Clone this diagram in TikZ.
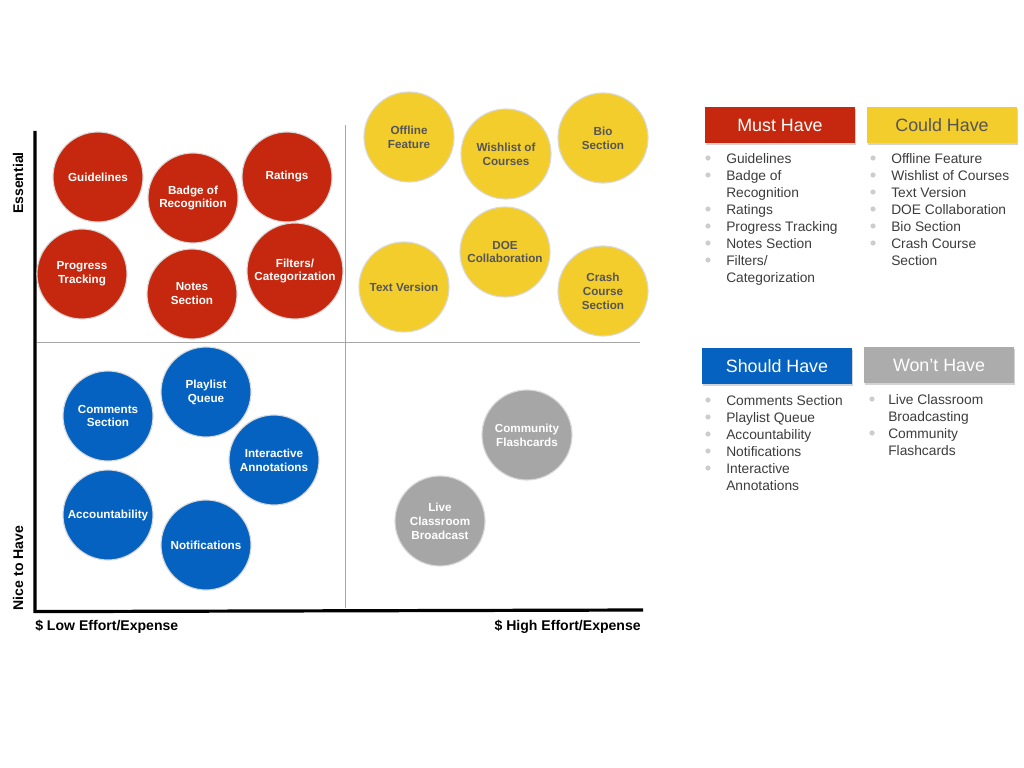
\documentclass[tikz,border=0pt]{standalone}
\usepackage{fontspec}
\setmainfont{Liberation Sans}
\usepackage{tikz}
\usetikzlibrary{shapes,shadows}
\usepackage{xcolor}
\definecolor{mqred}{RGB}{197,40,15}
\definecolor{mqyellow}{RGB}{242,205,44}
\definecolor{mqblue}{RGB}{6,98,192}
\definecolor{mqgray}{RGB}{166,166,166}
\definecolor{mqheadgray}{RGB}{172,172,172}
\definecolor{mqdark}{RGB}{85,85,85}
\definecolor{mqtext}{RGB}{60,60,60}
\definecolor{mqbullet}{RGB}{205,205,205}
\tikzstyle{feature} = [circle, minimum size=2.25cm, inner sep=0pt, align=center, draw=white!85!black, line width=0.8pt, text=white, font=\fontsize{8.3}{9.9}\selectfont\bfseries]
\tikzstyle{must} = [feature, fill=mqred]
\tikzstyle{could} = [feature, fill=mqyellow, text=mqdark]
\tikzstyle{should} = [feature, fill=mqblue]
\tikzstyle{wont} = [feature, fill=mqgray]
\tikzstyle{header} = [rectangle, minimum width=3.75cm, minimum height=0.9cm, inner sep=0pt, text=white, font=\fontsize{12.7}{14}\selectfont, drop shadow={shadow xshift=0.4pt, shadow yshift=-1.2pt, opacity=0.35}]
\tikzstyle{listitem} = [anchor=base west, inner sep=0pt, text=mqtext, font=\fontsize{9.8}{12}\selectfont]
\tikzstyle{bulletdot} = [circle, fill=mqbullet, inner sep=0pt, minimum size=0.13cm]
\tikzstyle{axislabel} = [inner sep=0pt, font=\fontsize{10}{12}\selectfont\bfseries]
\tikzstyle{axis} = [line width=0.08cm, black]
\tikzstyle{divider} = [line width=0.6pt, black!35]

\begin{document}
\begin{tikzpicture}[x=0.025cm, y=-0.025cm]
\useasboundingbox (0,0) rectangle (1024,768);

% Quadrant frame
\coordinate (origin) at (35,610);
\coordinate (ytop) at (35,131);
\coordinate (xend) at (643,610);
\coordinate (vtop) at (345,125);
\coordinate (vbottom) at (345,608);
\coordinate (hleft) at (37,342);
\coordinate (hright) at (640,342);
\draw[divider] (vtop) -- (vbottom);
\draw[divider] (hleft) -- (hright);
\draw[axis] (ytop) -- ([yshift=-0.04cm]origin) -- (xend);

\node[axislabel, rotate=90] (essential) at (18,183) {Essential};
\node[axislabel, rotate=90] (nicetohave) at (18,568) {Nice to Have};
\node[axislabel, anchor=west] (loweffort) at (35,627) {\$ Low Effort/Expense};
\node[axislabel, anchor=east] (higheffort) at (641,627) {\$ High Effort/Expense};

% Must have
\node[must] (guidelines) at (98,177) {Guidelines};
\node[must] (badge) at (193,198) {Badge of\\Recognition};
\node[must] (ratings) at (287,177) {Ratings};
\node[must] (progress) at (82,274) {Progress\\Tracking};
\node[must] (notes) at (192,294) {Notes\\Section};
\node[must, minimum size=2.4cm] (filters) at (295,271) {Filters/\\Categorization};

% Could have
\node[could] (offline) at (409,137) {Offline\\Feature};
\node[could] (wishlist) at (506,154) {Wishlist of\\Courses};
\node[could] (bio) at (603,138) {Bio\\Section};
\node[could] (textversion) at (404,287) {Text Version};
\node[could] (doe) at (505,252) {DOE\\Collaboration};
\node[could] (crash) at (603,291) {Crash\\Course\\Section};

% Should have
\node[should] (comments) at (108,416) {Comments\\Section};
\node[should] (playlist) at (206,392) {Playlist\\Queue};
\node[should] (interactive) at (274,460) {Interactive\\Annotations};
\node[should] (accountability) at (108,515) {Accountability};
\node[should] (notifications) at (206,545) {Notifications};

% Won't have
\node[wont] (community) at (527,435) {Community\\Flashcards};
\node[wont] (live) at (440,521) {Live\\Classroom\\Broadcast};

% Legend
\node[header, fill=mqred] (musthead) at (780,125) {Must Have};
\node[header, fill=mqyellow, text=mqdark] (couldhead) at (942,125) {Could Have};
\node[header, fill=mqblue] (shouldhead) at (777,366) {Should Have};
\node[header, fill=mqheadgray] (wonthead) at (939,365) {Won’t Have};

\foreach \txt/\dot [count=\i] in {Guidelines/1, Badge of/1, Recognition/0, Ratings/1, Progress Tracking/1, Notes Section/1, {Filters/}/1, Categorization/0}{
  \node[listitem] (must\i) at (726,{163+17*(\i-1)}) {\txt};
  \ifnum\dot=1 \node[bulletdot] (mustdot\i) at (708,{158+17*(\i-1)}) {};\fi
}
\foreach \txt/\dot [count=\i] in {Offline Feature/1, Wishlist of Courses/1, Text Version/1, DOE Collaboration/1, Bio Section/1, Crash Course/1, Section/0}{
  \node[listitem] (could\i) at (891,{163+17*(\i-1)}) {\txt};
  \ifnum\dot=1 \node[bulletdot] (coulddot\i) at (873,{158+17*(\i-1)}) {};\fi
}
\foreach \txt/\dot [count=\i] in {Comments Section/1, Playlist Queue/1, Accountability/1, Notifications/1, Interactive/1, Annotations/0}{
  \node[listitem] (should\i) at (726,{405+17*(\i-1)}) {\txt};
  \ifnum\dot=1 \node[bulletdot] (shoulddot\i) at (708,{400+17*(\i-1)}) {};\fi
}
\foreach \txt/\dot [count=\i] in {Live Classroom/1, Broadcasting/0, Community/1, Flashcards/0}{
  \node[listitem] (wont\i) at (888,{404+17*(\i-1)}) {\txt};
  \ifnum\dot=1 \node[bulletdot] (wontdot\i) at (872,{399+17*(\i-1)}) {};\fi
}
\end{tikzpicture}
\end{document}
